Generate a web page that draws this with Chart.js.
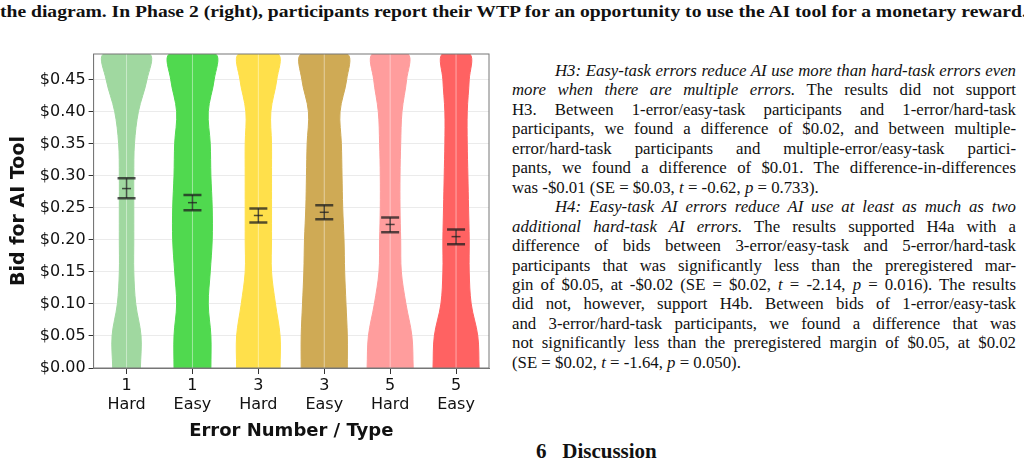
<!DOCTYPE html>
<html><head><meta charset="utf-8">
<script src="https://cdn.jsdelivr.net/npm/chart.js@4"></script>
<style>
body{margin:0;width:1024px;height:464px;overflow:hidden;background:#fff;position:relative;font-family:"Liberation Serif",serif;color:#111}
#cap{position:absolute;left:0;top:1px;font-weight:bold;font-size:17.5px;white-space:nowrap;transform-origin:0 0;transform:scaleX(1.12)}
#wrap{position:absolute;left:0;top:36px;width:505px;height:410px}
#txt{position:absolute;left:512px;top:61px;width:504px;font-size:16.8px;line-height:19.45px}
#txt div{text-align:justify;text-align-last:justify;white-space:nowrap}
#txt div.last{text-align-last:left}
#txt .ind{padding-left:43px}
#h6{position:absolute;left:536px;top:439px;font-weight:bold;font-size:21px}
</style></head><body>
<div id="cap">the diagram. In Phase 2 (right), participants report their WTP for an opportunity to use the AI tool for a monetary reward.</div>
<div id="wrap"><canvas id="c"></canvas></div>
<div id="txt">
<div class="ind"><i>H3: Easy-task errors reduce AI use more than hard-task errors even</i></div>
<div><i>more when there are multiple errors.</i> The results did not support</div>
<div>H3. Between 1-error/easy-task participants and 1-error/hard-task</div>
<div>participants, we found a difference of $0.02, and between multiple-</div>
<div>error/hard-task participants and multiple-error/easy-task partici-</div>
<div>pants, we found a difference of $0.01. The difference-in-differences</div>
<div class="last">was -$0.01 (SE = $0.03, <i>t</i> = -0.62, <i>p</i> = 0.733).</div>
<div class="ind"><i>H4: Easy-task AI errors reduce AI use at least as much as two</i></div>
<div><i>additional hard-task AI errors.</i> The results supported H4a with a</div>
<div>difference of bids between 3-error/easy-task and 5-error/hard-task</div>
<div>participants that was significantly less than the preregistered mar-</div>
<div>gin of $0.05, at -$0.02 (SE = $0.02, <i>t</i> = -2.14, <i>p</i> = 0.016). The results</div>
<div>did not, however, support H4b. Between bids of 1-error/easy-task</div>
<div>and 3-error/hard-task participants, we found a difference that was</div>
<div>not significantly less than the preregistered margin of $0.05, at $0.02</div>
<div class="last">(SE = $0.02, <i>t</i> = -1.64, <i>p</i> = 0.050).</div>
</div>
<div id="h6">6&nbsp;&nbsp;&nbsp;Discussion</div>
<script>
// categories
const groups = [["1","Hard"],["1","Easy"],["3","Hard"],["3","Easy"],["5","Hard"],["5","Easy"]];
const colors = ['#a0d8a0','#50d94f','#ffe04b','#cfaa55','#ff9d9d','#ff6262'];
// y levels at which the violin half-widths were read
const levels = [0.00,0.05,0.10,0.15,0.20,0.25,0.30,0.35,0.40,0.45,0.49];
// violin half widths (in category units) per group, per level
const halfW = [
  [0.21,0.22,0.14,0.11,0.11,0.11,0.11,0.12,0.18,0.31,0.35],
  [0.28,0.28,0.24,0.27,0.30,0.30,0.28,0.27,0.24,0.33,0.35],
  [0.33,0.33,0.26,0.20,0.20,0.20,0.20,0.20,0.19,0.28,0.30],
  [0.35,0.35,0.33,0.31,0.30,0.28,0.27,0.26,0.24,0.34,0.35],
  [0.35,0.33,0.24,0.17,0.16,0.15,0.15,0.16,0.18,0.25,0.27],
  [0.35,0.33,0.23,0.20,0.20,0.19,0.18,0.17,0.17,0.20,0.21]
];
// mean and 95% CI
const means = [0.280,0.258,0.238,0.243,0.224,0.205];
const ciLow = [0.265,0.246,0.227,0.232,0.212,0.193];
const ciHigh = [0.296,0.270,0.249,0.254,0.235,0.216];
const yTicks = [0,0.05,0.10,0.15,0.20,0.25,0.30,0.35,0.40,0.45];

const datasets = groups.map((g, i) => {
  const x0 = i + 1;
  const right = levels.map((y, k) => ({x: x0 + halfW[i][k], y}));
  const left = levels.map((y, k) => ({x: x0 - halfW[i][k], y})).reverse();
  const pts = right.concat(left);
  return {data: pts, showLine: true, fill: 'shape', backgroundColor: colors[i], borderColor: colors[i],
    borderWidth: 1, pointRadius: 0, tension: 0.35, clip: 0};
});

const errPlugin = {
  id: 'err',
  afterDatasetsDraw(chart) {
    const {ctx, scales: {x, y}, chartArea: a} = chart;
    ctx.save();
    ctx.strokeStyle = 'rgba(255,255,255,0.45)';
    ctx.lineWidth = 1;
    groups.forEach((g, i) => {
      const px = x.getPixelForValue(i + 1);
      ctx.beginPath(); ctx.moveTo(px, a.top); ctx.lineTo(px, a.bottom); ctx.stroke();
    });
    ctx.strokeStyle = 'rgba(30,30,30,0.75)';
    groups.forEach((g, i) => {
      const px = x.getPixelForValue(i + 1);
      const lo = y.getPixelForValue(ciLow[i]), hi = y.getPixelForValue(ciHigh[i]), m = y.getPixelForValue(means[i]);
      ctx.lineWidth = 1.5;
      ctx.beginPath(); ctx.moveTo(px, lo); ctx.lineTo(px, hi); ctx.stroke();
      ctx.lineWidth = 2.5;
      ctx.beginPath(); ctx.moveTo(px - 9, lo); ctx.lineTo(px + 9, lo);
      ctx.moveTo(px - 9, hi); ctx.lineTo(px + 9, hi); ctx.stroke();
      ctx.lineWidth = 1.5;
      ctx.beginPath(); ctx.moveTo(px - 4.5, m); ctx.lineTo(px + 4.5, m); ctx.stroke();
    });
    ctx.strokeStyle = '#777'; ctx.lineWidth = 1;
    ctx.strokeRect(a.left, a.top, a.right - a.left, a.bottom - a.top);
    ctx.restore();
  }
};

new Chart(document.getElementById('c'), {
  type: 'scatter',
  data: {datasets},
  plugins: [errPlugin],
  options: {
    responsive: true, maintainAspectRatio: false, animation: false,
    layout: {padding: {top: 18, right: 16, left: 4, bottom: 0}},
    plugins: {legend: {display: false}, tooltip: {enabled: false}},
    scales: {
      x: {type: 'linear', min: 0.5, max: 6.5,
        afterBuildTicks: s => { s.ticks = groups.map((g, i) => ({value: i + 1})); },
        ticks: {color: '#111', font: {family: 'DejaVu Sans', size: 16}, padding: 2, autoSkip: false,
          maxRotation: 0, callback: v => groups[v - 1]},
        grid: {drawOnChartArea: false, color: '#333', tickLength: 6},
        border: {color: '#777'},
        title: {display: true, text: 'Error Number / Type', color: '#111',
          font: {family: 'DejaVu Sans', size: 18, weight: 'bold'}, padding: {top: 4}}
      },
      y: {min: 0, max: 0.49,
        afterBuildTicks: s => { s.ticks = yTicks.map(v => ({value: v})); },
        ticks: {color: '#111', font: {family: 'DejaVu Sans', size: 16}, padding: 3,
          callback: v => '$' + v.toFixed(2)},
        grid: {color: '#ebebeb', tickColor: '#333', tickLength: 5},
        border: {color: '#777'},
        title: {display: true, text: 'Bid for AI Tool', color: '#111',
          font: {family: 'DejaVu Sans', size: 19, weight: 'bold'}, padding: {bottom: 6}}
      }
    }
  }
});
</script>
</body></html>
